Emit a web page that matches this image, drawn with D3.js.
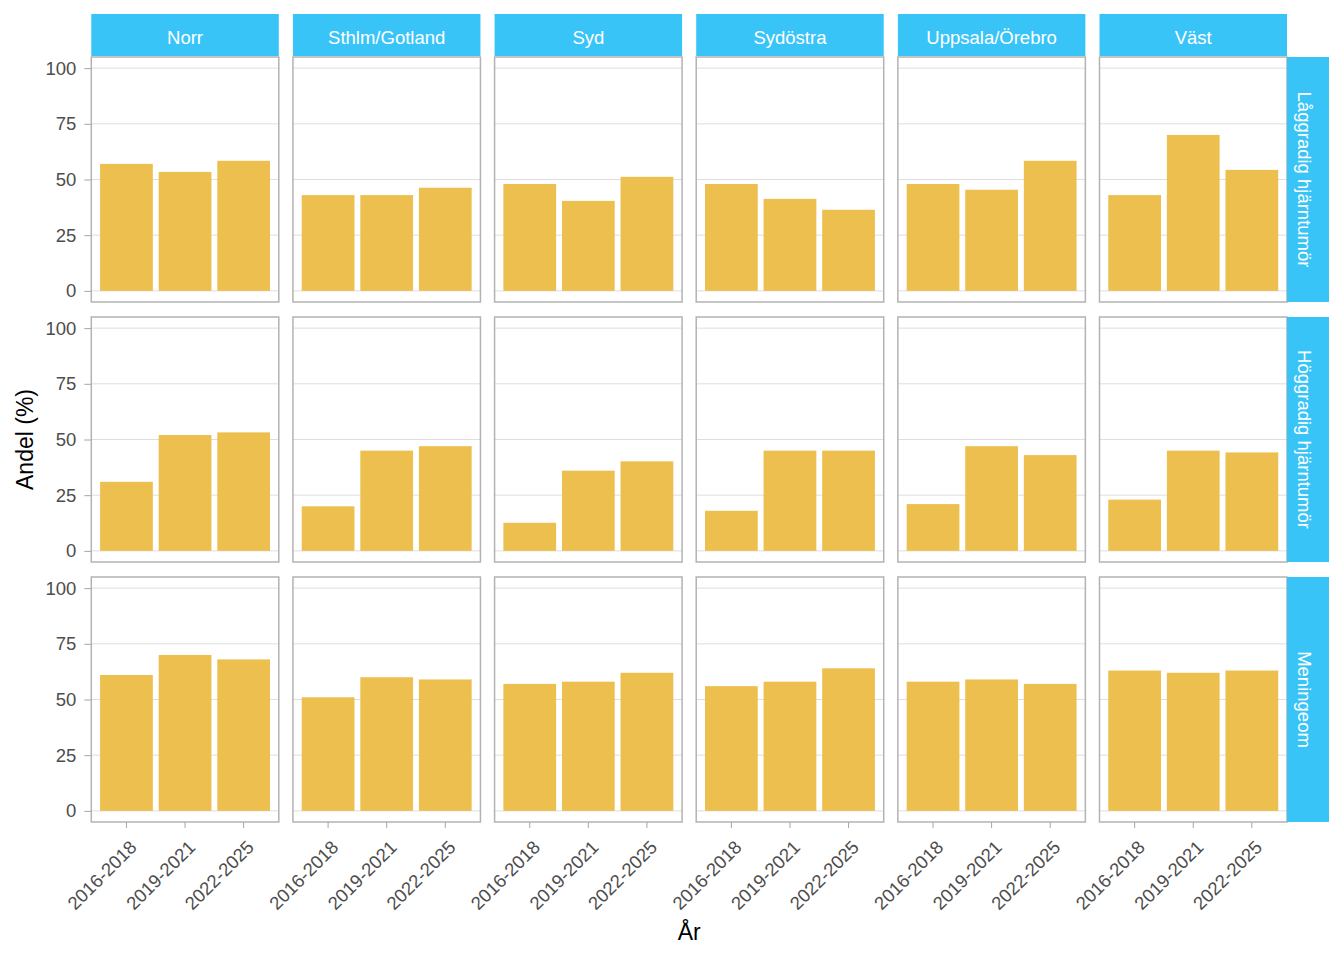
<!DOCTYPE html>
<html>
<head>
<meta charset="utf-8">
<script src="https://cdn.jsdelivr.net/npm/d3@7"></script>
<style>
  body { margin: 0; background: #fff; }
  text { font-family: "Liberation Sans", Arial, sans-serif; }
</style>
</head>
<body>
<svg id="chart"></svg>
<script>
// regions (columns), tumour types (rows), periods (x categories)
const regions = ["Norr", "Sthlm/Gotland", "Syd", "Sydöstra", "Uppsala/Örebro", "Väst"];
const tumours = ["Låggradig hjärntumör", "Höggradig hjärntumör", "Meningeom"];
const periods = ["2016-2018", "2019-2021", "2022-2025"];
const yTicks = [0, 25, 50, 75, 100];

// share (%) per region, one value per period
const lowGrade = [
  [57, 53.4, 58.4],
  [43, 43, 46.3],
  [48, 40.4, 51.2],
  [48, 41.3, 36.4],
  [48, 45.4, 58.4],
  [43, 70, 54.3]
];
const highGrade = [
  [31, 52, 53.2],
  [20, 45, 47],
  [12.6, 36, 40.2],
  [18, 45, 45],
  [21, 47, 43],
  [23, 45, 44.2]
];
const meningioma = [
  [61, 70, 68],
  [51, 60, 59],
  [57, 58, 62],
  [56, 58, 64],
  [58, 59, 57],
  [63, 62, 63]
];
const valuesByTumour = [lowGrade, highGrade, meningioma];

const W = 1344, H = 960;
const stripColor = "#39C4F8";
const barColor = "#ECBF4F";
const gridColor = "#DEDEDE";
const borderColor = "#B3B3B3";

const svg = d3.select("#chart").attr("width", W).attr("height", H);

const col = d3.scaleBand().domain(regions).range([91.3, 1287]).paddingInner(0.0701);
const row = d3.scaleBand().domain(tumours).range([57, 822]).paddingInner(0.0577);
const pw = col.bandwidth();
const ph = row.bandwidth();

const x = d3.scaleBand().domain(periods).range([0, pw]).paddingInner(0.1).paddingOuter(0.15);
const y = d3.scaleLinear().domain([-5, 105]).range([ph, 0]);

tumours.forEach((t, ri) => {
  regions.forEach((r, ci) => {
    const g = svg.append("g")
      .attr("transform", `translate(${col(r)}, ${row(t)})`);

    g.append("rect")
      .attr("width", pw).attr("height", ph)
      .attr("fill", "#fff");

    g.selectAll(".grid")
      .data(yTicks)
      .join("line")
      .attr("class", "grid")
      .attr("x1", 0).attr("x2", pw)
      .attr("y1", (d) => y(d)).attr("y2", (d) => y(d))
      .attr("stroke", gridColor).attr("stroke-width", 1);

    const vals = valuesByTumour[ri][ci];
    g.selectAll(".bar")
      .data(periods.map((p, i) => ({ p: p, v: vals[i] })))
      .join("rect")
      .attr("class", "bar")
      .attr("x", (d) => x(d.p))
      .attr("width", x.bandwidth())
      .attr("y", (d) => y(d.v))
      .attr("height", (d) => y(0) - y(d.v))
      .attr("fill", barColor);

    g.append("rect")
      .attr("width", pw).attr("height", ph)
      .attr("fill", "none")
      .attr("stroke", borderColor).attr("stroke-width", 1.5);

    // y axis on first column
    if (ci === 0) {
      const ya = g.append("g")
        .call(d3.axisLeft(y).tickValues(yTicks).tickSize(7).tickPadding(8));
      ya.select(".domain").remove();
      ya.selectAll("line").attr("stroke", "#A6A6A6");
      ya.selectAll("text")
        .attr("fill", "#4D4D4D")
        .style("font-size", "18.5px")
        .style("font-family", "'Liberation Sans', Arial, sans-serif");
    }

    // x axis on bottom row
    if (ri === tumours.length - 1) {
      const xa = g.append("g")
        .attr("transform", `translate(0, ${ph})`)
        .call(d3.axisBottom(x).tickSize(6));
      xa.select(".domain").remove();
      xa.selectAll("line").attr("stroke", "#A6A6A6");
      xa.selectAll("text")
        .attr("x", 0).attr("y", 0)
        .attr("dy", "0.72em")
        .attr("transform", "translate(2, 17) rotate(-45)")
        .attr("fill", "#4D4D4D")
        .style("text-anchor", "end")
        .style("font-size", "18.5px")
        .style("font-family", "'Liberation Sans', Arial, sans-serif");
    }

    // top strips
    if (ri === 0) {
      svg.append("rect")
        .attr("x", col(r)).attr("y", 14)
        .attr("width", pw).attr("height", 42)
        .attr("fill", stripColor);
      svg.append("text")
        .attr("x", col(r) + pw / 2).attr("y", 43.5)
        .attr("text-anchor", "middle")
        .attr("fill", "#fff")
        .style("font-size", "18.5px")
        .text(r);
    }
  });

  // right strips
  svg.append("rect")
    .attr("x", 1287).attr("y", row(t))
    .attr("width", 42).attr("height", ph)
    .attr("fill", stripColor);
  svg.append("text")
    .attr("transform", `translate(1298, ${row(t) + ph / 2}) rotate(90)`)
    .attr("text-anchor", "middle")
    .attr("fill", "#fff")
    .style("font-size", "18.5px")
    .text(t);
});

// axis titles
svg.append("text")
  .attr("x", (91.3 + 1287) / 2).attr("y", 940)
  .attr("text-anchor", "middle")
  .style("font-size", "23px")
  .attr("fill", "#000")
  .text("År");

svg.append("text")
  .attr("transform", `translate(33, ${(57 + 822) / 2}) rotate(-90)`)
  .attr("text-anchor", "middle")
  .style("font-size", "23px")
  .attr("fill", "#000")
  .text("Andel (%)");
</script>
</body>
</html>
